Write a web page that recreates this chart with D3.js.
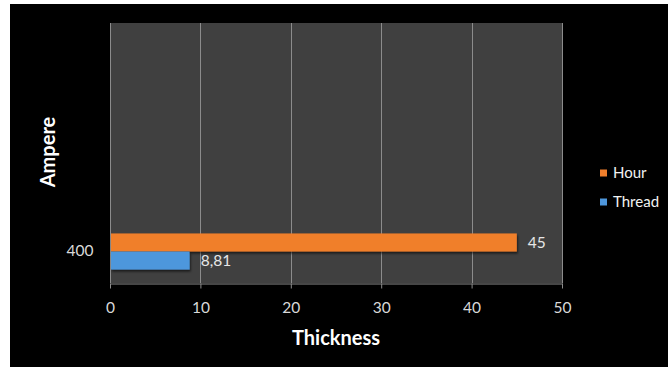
<!DOCTYPE html>
<html>
<head>
<meta charset="utf-8">
<script src="https://cdn.jsdelivr.net/npm/d3@7/dist/d3.min.js"></script>
<style>
  html, body { margin: 0; padding: 0; background: #ffffff; }
  svg { display: block; }
  text { font-family: Lato, "Open Sans", sans-serif; }
</style>
</head>
<body>
<svg id="chart" width="668" height="367"></svg>
<script>
// Data
const categories = ["400"];
const seriesNames = ["Hour", "Thread"];
const hourValues = [45];
const threadValues = [8.81];
const xTicks = [0, 10, 20, 30, 40, 50];
const seriesColors = ["#f07f2c", "#4e97dc"];

const svg = d3.select("#chart");

// Black chart canvas
svg.append("rect").attr("x", 10).attr("y", 4).attr("width", 658).attr("height", 363).attr("fill", "#000");

const plot = { left: 110, right: 562, top: 23, bottom: 283 };

const defs = svg.append("defs");
const shadow = defs.append("filter").attr("id", "barShadow")
  .attr("x", "-5%").attr("y", "-20%").attr("width", "115%").attr("height", "160%");
shadow.append("feDropShadow").attr("dx", 1).attr("dy", 2).attr("stdDeviation", 1.2)
  .attr("flood-color", "#000").attr("flood-opacity", 0.6);

// Plot background
svg.append("rect").attr("x", plot.left).attr("y", plot.top)
  .attr("width", plot.right - plot.left).attr("height", plot.bottom - plot.top)
  .attr("fill", "#404040");

const x = d3.scaleLinear().domain([0, 50]).range([plot.left, plot.right]);

// The single category occupies the lowest quarter of the plot height
const bandHeight = (plot.bottom - plot.top) / 4;
const y = d3.scaleBand().domain(categories)
  .range([plot.bottom + 1, plot.bottom + 1 - bandHeight])
  .paddingInner(0).paddingOuter(0.4);

const ySub = d3.scaleBand().domain(seriesNames).range([0, y.bandwidth()]);

// Vertical gridlines
svg.append("g").selectAll("line").data(xTicks.filter(t => t > 0)).join("line")
  .attr("x1", d => Math.round(x(d)) + 0.5).attr("x2", d => Math.round(x(d)) + 0.5)
  .attr("y1", plot.top).attr("y2", plot.bottom)
  .attr("stroke", "#8c8c8c").attr("stroke-width", 1);

// Left axis line spanning the full plot height
svg.append("line")
  .attr("x1", plot.left + 0.5).attr("x2", plot.left + 0.5)
  .attr("y1", plot.top).attr("y2", plot.bottom)
  .attr("stroke", "#8c8c8c");

// X axis
const xAxis = svg.append("g").attr("transform", `translate(0,${plot.bottom + 0.5})`)
  .call(d3.axisBottom(x).tickValues(xTicks).tickSize(5).tickSizeOuter(0).tickPadding(13).tickFormat(d3.format("d")));
xAxis.select(".domain").attr("stroke", "#8c8c8c");
xAxis.selectAll(".tick line").attr("stroke", "#8c8c8c");
xAxis.selectAll(".tick text").attr("fill", "#d9d9d9").attr("font-size", 15.5);

// Y axis labels
const yAxis = svg.append("g").attr("transform", `translate(${plot.left + 0.5},0)`)
  .call(d3.axisLeft(y).tickSize(0).tickPadding(17));
yAxis.select(".domain").remove();
yAxis.selectAll(".tick text").attr("fill", "#d9d9d9").attr("font-size", 15.5);

// Bars
const rows = categories.map((c, i) => ({
  category: c,
  values: [
    { series: "Hour", value: hourValues[i] },
    { series: "Thread", value: threadValues[i] }
  ]
}));

const colorOf = d3.scaleOrdinal().domain(seriesNames).range(seriesColors);
const fmt = v => String(v).replace(".", ",");

const groups = svg.append("g").selectAll("g").data(rows).join("g")
  .attr("transform", d => `translate(0,${y(d.category)})`);

groups.selectAll("rect").data(d => d.values).join("rect")
  .attr("x", x(0) + 1)
  .attr("y", d => ySub(d.series))
  .attr("width", d => x(d.value) - x(0) - 1)
  .attr("height", ySub.bandwidth())
  .attr("fill", d => colorOf(d.series))
  .attr("filter", "url(#barShadow)");

groups.selectAll("text").data(d => d.values).join("text")
  .attr("x", d => x(d.value) + 11)
  .attr("y", d => ySub(d.series) + ySub.bandwidth() / 2)
  .attr("dy", "0.35em")
  .attr("fill", "#e6e6e6").attr("font-size", 15.5)
  .text(d => fmt(d.value));

// Axis titles
svg.append("text").attr("x", 336).attr("y", 338).attr("dy", "0.35em")
  .attr("text-anchor", "middle").attr("fill", "#ffffff")
  .attr("font-size", 20).attr("font-weight", "bold").text("Thickness");

svg.append("text").attr("transform", "translate(48,152) rotate(-90)")
  .attr("dy", "0.35em").attr("text-anchor", "middle").attr("fill", "#ffffff")
  .attr("font-size", 20).attr("font-weight", "bold").text("Ampere");

// Legend
const legend = svg.append("g").selectAll("g").data(seriesNames).join("g")
  .attr("transform", (d, i) => `translate(600,${173 + i * 29})`);
legend.append("rect").attr("x", 0).attr("y", -3.5).attr("width", 7).attr("height", 7)
  .attr("fill", d => colorOf(d));
legend.append("text").attr("x", 13).attr("y", 0).attr("dy", "0.35em")
  .attr("fill", "#f2f2f2").attr("font-size", 15).text(d => d);
</script>
</body>
</html>
